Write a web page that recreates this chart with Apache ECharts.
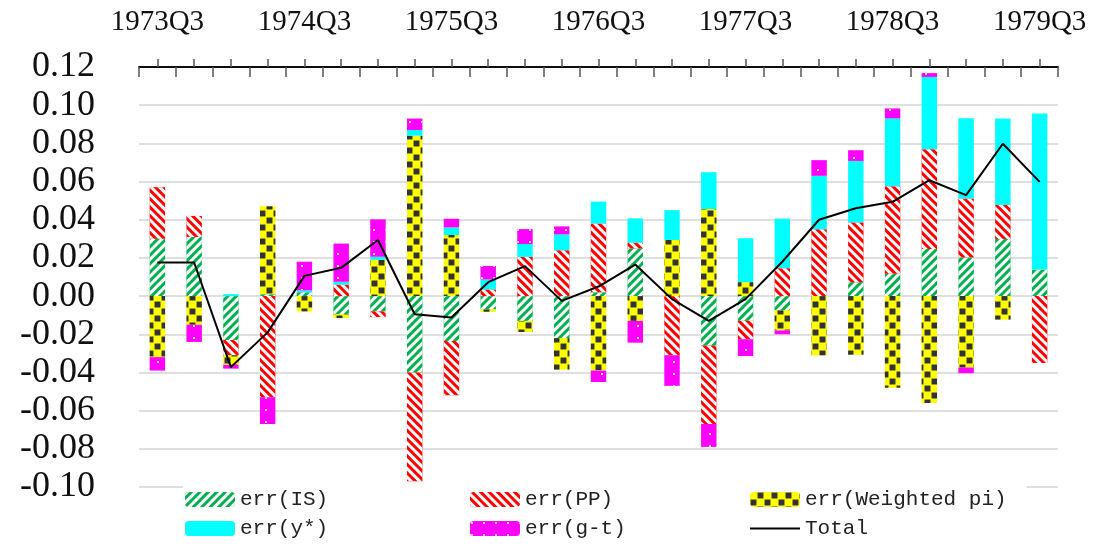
<!DOCTYPE html>
<html>
<head>
<meta charset="utf-8">
<script src="https://cdn.jsdelivr.net/npm/echarts@6/dist/echarts.min.js"></script>
<style>
  html, body { margin: 0; padding: 0; background: #fff; }
  #chart { width: 1097px; height: 548px; }
</style>
</head>
<body>
<div id="chart"></div>
<script>
var quarters = ['1973Q3', '1973Q4', '1974Q1', '1974Q2', '1974Q3', '1974Q4', '1975Q1', '1975Q2',
    '1975Q3', '1975Q4', '1976Q1', '1976Q2', '1976Q3', '1976Q4', '1977Q1', '1977Q2',
    '1977Q3', '1977Q4', '1978Q1', '1978Q2', '1978Q3', '1978Q4', '1979Q1', '1979Q2', '1979Q3'];

var errIS = [0.030, 0.031, -0.023, 0.001, 0.002, -0.0095, -0.008, -0.040, -0.0235, -0.007, -0.013, -0.022, 0.002,
    0.025, 0, -0.026, -0.013, -0.0075, 0, 0.0073, 0.0117, 0.0247, 0.0203, 0.0299, 0.0139];
var errPP = [0.027, 0.011, -0.008, -0.053, 0, 0.006, -0.003, -0.057, -0.0285, 0.0035, 0.0205, 0.024, 0.036,
    0.003, -0.031, -0.041, -0.0096, 0.0146, 0.035, 0.0313, 0.0459, 0.0522, 0.0308, 0.0178, -0.035];
var errWpi = [-0.032, -0.015, -0.005, 0.046, -0.008, -0.002, 0.019, 0.084, 0.032, -0.0012, -0.0058, -0.0165, -0.039,
    -0.013, 0.0294, 0.0456, 0.0073, -0.0105, -0.031, -0.0307, -0.048, -0.056, -0.0374, -0.0123, 0];
var errY = [0, 0, 0.001, 0, 0.001, 0.0015, 0.0016, 0.003, 0.004, 0.0052, 0.0068, 0.0083, 0.0115,
    0.0127, 0.0156, 0.0193, 0.023, 0.026, 0.028, 0.0322, 0.0355, 0.0379, 0.042, 0.0453, 0.0818];
var errGT = [-0.007, -0.009, -0.002, -0.014, 0.015, 0.020, 0.0196, 0.006, 0.0045, 0.0071, 0.0078, 0.0042, -0.006,
    -0.0114, -0.016, -0.012, -0.0088, -0.002, 0.0082, 0.0056, 0.0052, 0.002, -0.003, 0, 0];
var total = [0.0176, 0.0176, -0.0372, -0.019, 0.0106, 0.0148, 0.0294, -0.0095, -0.0112, 0.0073, 0.0157, -0.0025, 0.005,
    0.0165, -0.0016, -0.013, -0.0016, 0.018, 0.040, 0.046, 0.0494, 0.0607, 0.0529, 0.0798, 0.0598];

var serifFont = 'Liberation Serif';
var monoFont = 'Liberation Mono';

function barSeries(name, data, color, decal) {
    return {
        name: name,
        type: 'bar',
        stack: 'err',
        barWidth: '42%',
        data: data,
        itemStyle: { color: color, decal: decal }
    };
}

// three legend columns, white boxes hide the bottom grid line like the original
function legendCol(left, names, padRight) {
    return {
        orient: 'vertical',
        left: left,
        top: 485,
        padding: [4, padRight, 4, 2],
        backgroundColor: '#fff',
        itemWidth: 50,
        itemHeight: 15,
        itemGap: 8,
        textStyle: { fontFamily: monoFont, fontSize: 21, color: '#222' },
        data: names
    };
}

var chart = echarts.init(document.getElementById('chart'));

chart.setOption({
    animation: false,
    grid: { left: 139, right: 39, top: 67, bottom: 61 },
    legend: [
        legendCol(183, ['err(IS)', 'err(y*)'], 150),
        legendCol(468, ['err(PP)', 'err(g-t)'], 150),
        legendCol(748, ['err(Weighted pi)', { name: 'Total', icon: 'path://M0 0H50V2H0Z' }], 20)
    ],
    xAxis: [{
        // main axis: labels and boundary ticks pointing into the plot
        type: 'category',
        position: 'top',
        data: quarters,
        axisLine: { show: true, onZero: false, lineStyle: { color: '#000', width: 1.5 } },
        axisTick: { show: true, inside: true, length: 10, interval: 0, lineStyle: { color: '#555', width: 1.5 } },
        axisLabel: { interval: 3, margin: 30, fontFamily: serifFont, fontSize: 29, color: '#111' }
    }, {
        // centre ticks pointing outward
        type: 'category',
        position: 'top',
        data: quarters,
        axisLine: { show: true, onZero: false, lineStyle: { color: '#000', width: 1.5 } },
        axisTick: { show: true, alignWithLabel: true, length: 8, interval: 0, lineStyle: { color: '#555', width: 1.5 } },
        axisLabel: { show: false }
    }],
    yAxis: {
        type: 'value',
        min: -0.1,
        max: 0.12,
        interval: 0.02,
        axisLine: { show: false },
        axisTick: { show: false },
        splitLine: { lineStyle: { color: '#d4d4d4', width: 1.5 } },
        axisLabel: {
            margin: 44,
            fontFamily: serifFont,
            fontSize: 36,
            color: '#111',
            formatter: function (v) { return v.toFixed(2); }
        }
    },
    series: [
        barSeries('err(IS)', errIS, '#00b050', {
            symbol: 'rect', symbolSize: 1, color: '#fff',
            dashArrayX: [1, 0], dashArrayY: [3, 3], rotation: -Math.PI / 4
        }),
        barSeries('err(PP)', errPP, '#ff0000', {
            symbol: 'rect', symbolSize: 1, color: '#fff',
            dashArrayX: [1, 0], dashArrayY: [3, 3], rotation: Math.PI / 4
        }),
        barSeries('err(Weighted pi)', errWpi, '#ffff00', {
            symbol: 'rect', symbolSize: 0.85, color: '#333',
            dashArrayX: [[7, 7], [0, 7, 7, 0]], dashArrayY: [7, 0]
        }),
        barSeries('err(y*)', errY, '#00ffff', null),
        barSeries('err(g-t)', errGT, '#ff00ff', {
            symbol: 'rect', symbolSize: 0.5, color: '#ffd6ff',
            dashArrayX: [4, 8], dashArrayY: [4, 8]
        }),
        {
            name: 'Total',
            type: 'line',
            data: total,
            symbol: 'none',
            z: 5,
            lineStyle: { color: '#000', width: 2 },
            itemStyle: { color: '#000' }
        }
    ]
});
</script>
</body>
</html>
